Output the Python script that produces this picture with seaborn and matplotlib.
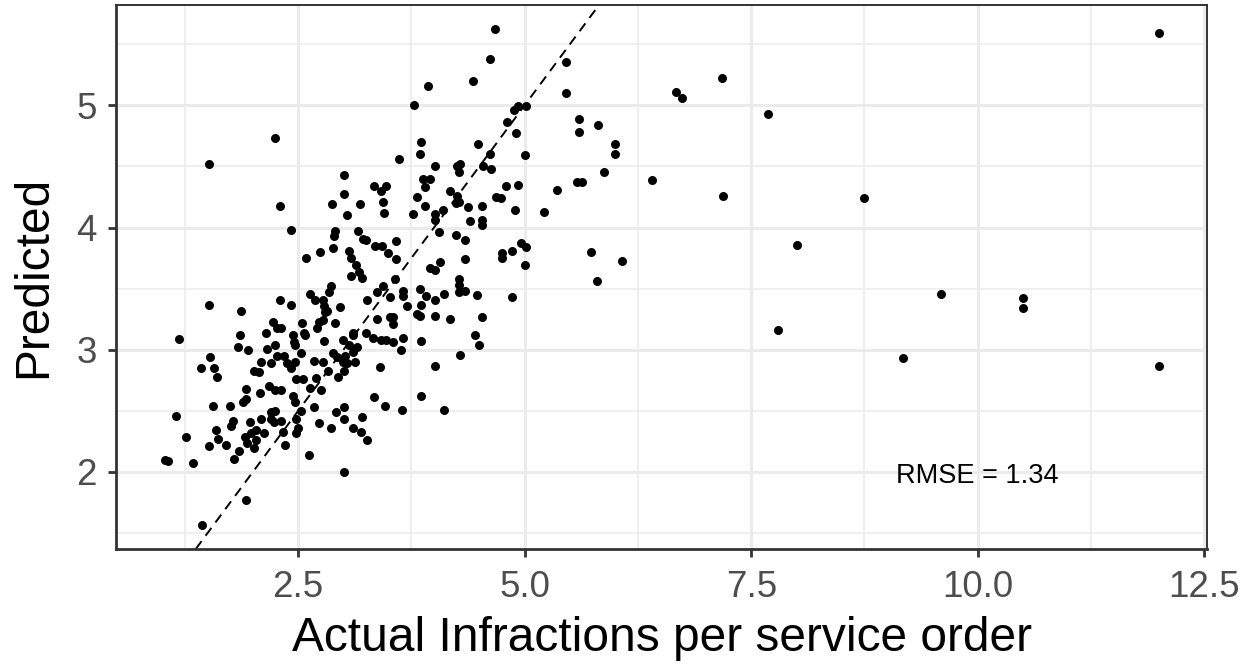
import matplotlib
matplotlib.use("Agg")
import matplotlib.pyplot as plt
import seaborn as sns
import numpy as np
import pandas as pd
from matplotlib.ticker import FixedLocator

# --- data (actual vs predicted) ---
actual = [
    # sparse right-hand points
    6.67, 6.74, 7.18, 7.69, 7.19, 8.75, 8.00, 9.60, 10.50, 10.50, 7.80, 9.18, 12.00, 12.00,
    5.46, 5.46, 5.60, 5.60, 5.81, 6.00, 6.00, 5.87, 5.58, 5.63, 5.36, 5.21, 6.40, 5.73, 6.07, 5.80,
    # upper middle
    4.67, 4.62, 3.93, 4.43, 4.88, 4.93, 5.01, 4.81, 4.90, 5.00, 4.48, 4.62, 4.54, 4.63, 3.86, 3.85,
    4.01, 4.25, 4.29, 4.28, 3.88, 3.95, 3.90, 4.18, 4.25, 4.79, 4.93, 4.68, 4.74,
    3.78, 3.61, 3.01, 3.01, 3.34, 3.47, 3.41, 3.81, 2.25, 1.52,
    # middle right
    3.90, 4.01, 4.01, 4.10, 4.24, 4.27, 4.38, 4.53, 4.40, 4.53, 4.53, 4.89,
    4.06, 4.24, 4.34, 4.34, 4.07, 3.96, 4.01, 4.75, 4.75, 4.86, 4.96, 5.01, 5.00,
    4.27, 4.27, 4.27, 4.34, 4.47, 4.11, 3.85, 3.91, 4.01, 3.86, 4.86, 3.85, 4.01, 4.18, 4.53,
    4.45, 4.50, 3.86, 4.29, 4.01, 3.86, 4.11,
    # lower middle
    3.40, 2.83, 3.01, 2.94, 2.70, 2.42, 2.48, 2.55, 2.63, 2.75, 2.31, 2.44, 2.46, 3.34, 3.46, 3.65,
    2.67, 2.53, 2.92, 3.01, 2.48, 2.50, 2.48, 3.01, 3.21, 2.73, 2.86, 3.10, 3.19, 3.26, 2.31, 2.33,
    2.35, 2.62, 3.01,
    # lower left
    1.43, 1.57, 1.60, 2.01, 2.07, 1.92, 1.89, 1.93, 2.08, 2.18, 2.25, 1.75, 1.56, 1.15, 2.20, 2.25,
    1.78, 1.76, 1.97, 2.09, 2.20, 1.59, 1.26, 1.62, 1.70, 1.52, 1.91, 1.94, 2.01, 1.98, 2.03, 1.85,
    1.79, 2.03, 2.12, 2.23, 1.03, 1.06, 1.34, 1.92, 1.44,
    # middle left
    2.30, 2.30, 1.52, 1.87, 2.22, 2.27, 2.15, 1.86, 1.19, 1.84, 1.95, 2.16, 2.25, 1.53, 2.09, 2.20, 2.27,
    # dense centre
    2.87, 3.18, 3.04, 3.44, 3.45, 3.77, 2.42, 2.91, 2.90, 3.16, 3.22, 3.25, 3.35, 3.43, 3.49, 3.58,
    3.58, 2.89, 2.74, 2.59, 3.06, 3.08, 3.14, 3.17, 3.08, 3.20, 3.57, 2.86, 2.84, 2.63, 3.44, 3.37,
    3.26, 3.51, 3.66, 3.66, 3.70, 2.69, 2.77, 2.78, 2.80, 2.82, 2.96, 2.42, 3.37, 3.51, 3.55, 3.55,
    3.81, 2.91, 2.73, 2.71, 2.77, 2.54, 2.56, 2.58, 2.44, 2.45, 2.47, 2.31, 3.10, 3.11, 3.25, 3.33,
    3.41, 3.47, 3.55, 3.66, 3.63, 2.79, 3.00, 3.06, 3.15, 3.10, 3.02, 2.89, 2.93, 2.99, 3.13, 3.04,
    2.53, 2.47, 2.38, 2.67, 2.77, 2.34,
]
predicted = [
    5.11, 5.06, 5.22, 4.93, 4.26, 4.24, 3.86, 3.46, 3.42, 3.34, 3.16, 2.93, 5.59, 2.87,
    5.35, 5.10, 4.89, 4.78, 4.84, 4.68, 4.60, 4.45, 4.37, 4.37, 4.31, 4.13, 4.39, 3.80, 3.73, 3.56,
    5.62, 5.38, 5.16, 5.20, 4.96, 4.99, 4.99, 4.86, 4.77, 4.59, 4.68, 4.60, 4.50, 4.48, 4.70, 4.60,
    4.50, 4.50, 4.52, 4.45, 4.40, 4.40, 4.33, 4.30, 4.26, 4.34, 4.35, 4.25, 4.24,
    5.00, 4.56, 4.43, 4.27, 4.34, 4.34, 4.30, 4.25, 4.73, 4.52,
    4.18, 4.11, 4.06, 4.14, 4.20, 4.21, 4.17, 4.18, 4.05, 4.06, 4.02, 4.14,
    3.96, 3.94, 3.90, 3.74, 3.72, 3.67, 3.65, 3.79, 3.75, 3.81, 3.87, 3.84, 3.69,
    3.58, 3.53, 3.47, 3.48, 3.45, 3.46, 3.50, 3.44, 3.41, 3.37, 3.43, 3.28, 3.28, 3.25, 3.27,
    3.12, 3.04, 3.07, 2.96, 2.87, 2.62, 2.51,
    2.86, 2.83, 2.83, 2.78, 2.77, 2.85, 2.76, 2.76, 2.69, 2.67, 2.67, 2.62, 2.57, 2.61, 2.54, 2.51,
    2.53, 2.50, 2.49, 2.53, 2.43, 2.36, 2.32, 2.43, 2.45, 2.40, 2.36, 2.36, 2.33, 2.26, 2.42, 2.33,
    2.22, 2.14, 2.00,
    2.85, 2.85, 2.78, 2.83, 2.82, 2.68, 2.57, 2.60, 2.65, 2.70, 2.67, 2.54, 2.54, 2.46, 2.49, 2.50,
    2.42, 2.38, 2.41, 2.43, 2.43, 2.34, 2.29, 2.27, 2.22, 2.21, 2.29, 2.24, 2.20, 2.32, 2.34, 2.17,
    2.11, 2.26, 2.32, 2.41, 2.10, 2.09, 2.07, 1.77, 1.57,
    4.18, 3.41, 3.37, 3.32, 3.23, 3.18, 3.14, 3.12, 3.09, 3.02, 3.00, 3.01, 3.04, 2.94, 2.90, 2.89, 2.95,
    4.19, 4.19, 4.10, 4.21, 4.12, 4.11, 3.98, 3.97, 3.93, 3.97, 3.91, 3.90, 3.85, 3.85, 3.79, 3.89,
    3.74, 3.83, 3.80, 3.75, 3.81, 3.75, 3.69, 3.64, 3.60, 3.59, 3.58, 3.52, 3.47, 3.46, 3.52, 3.47,
    3.41, 3.43, 3.48, 3.44, 3.36, 3.41, 3.41, 3.36, 3.31, 3.32, 3.35, 3.37, 3.25, 3.27, 3.27, 3.21,
    3.29, 3.22, 3.23, 3.18, 3.24, 3.22, 3.14, 3.12, 3.12, 3.06, 3.04, 3.18, 3.14, 3.12, 3.14, 3.10,
    3.08, 3.08, 3.06, 3.10, 3.00, 3.07, 3.08, 3.04, 3.02, 2.98, 2.95, 2.97, 2.94, 2.90, 2.90, 2.89,
    2.97, 2.90, 2.89, 2.91, 2.90, 2.95,
]
rmse_label = "RMSE = 1.34"

df = pd.DataFrame({"actual": actual, "predicted": predicted})

sns.set_theme(style="white")
plt.rcParams['font.family'] = ['Liberation Sans', 'DejaVu Sans']

fig = plt.figure(figsize=(12.46, 6.70), dpi=100)
ax = fig.add_axes([0.0931, 0.1806, 0.8756, 0.8119])

sns.scatterplot(data=df, x="actual", y="predicted", color="black", s=42,
                linewidth=0, edgecolor=None, ax=ax, zorder=3)

# y = x reference line
ax.axline((2, 2), slope=1, color="black", lw=1.4, ls=(0, (5, 3.5)), zorder=2)

ax.text(10.0, 1.97, rmse_label, ha="center", va="center", fontsize=19.5, color="black")

ax.set_xlim(0.49, 12.53)
ax.set_ylim(1.37, 5.82)
ax.xaxis.set_major_locator(FixedLocator([2.5, 5.0, 7.5, 10.0, 12.5]))
ax.xaxis.set_minor_locator(FixedLocator([1.25, 3.75, 6.25, 8.75, 11.25]))
ax.yaxis.set_major_locator(FixedLocator([2, 3, 4, 5]))
ax.yaxis.set_minor_locator(FixedLocator([1.5, 2.5, 3.5, 4.5, 5.5]))
ax.set_xticklabels(["2.5", "5.0", "7.5", "10.0", "12.5"])
ax.set_yticklabels(["2", "3", "4", "5"])

ax.grid(which="major", color="#EBEBEB", lw=2.2, zorder=0)
ax.grid(which="minor", color="#EBEBEB", lw=1.1, zorder=0)
ax.set_axisbelow(True)

for side in ["top", "right"]:
    ax.spines[side].set_color("#333333")
    ax.spines[side].set_linewidth(1.4)
for side in ["left", "bottom"]:
    ax.spines[side].set_color("#333333")
    ax.spines[side].set_linewidth(2.0)

ax.tick_params(which="major", length=6, width=2, color="#333333",
               labelsize=26.5, labelcolor="#4D4D4D", bottom=True, left=True)
ax.tick_params(axis="x", which="major", pad=9)
ax.tick_params(axis="y", which="major", pad=8)
ax.tick_params(which="minor", length=0)

ax.set_xlabel("Actual Infractions per service order", fontsize=34.5, color="black", labelpad=8)
ax.set_ylabel("Predicted", fontsize=34.5, color="black", labelpad=14)

plt.savefig("out.png", dpi=100)
